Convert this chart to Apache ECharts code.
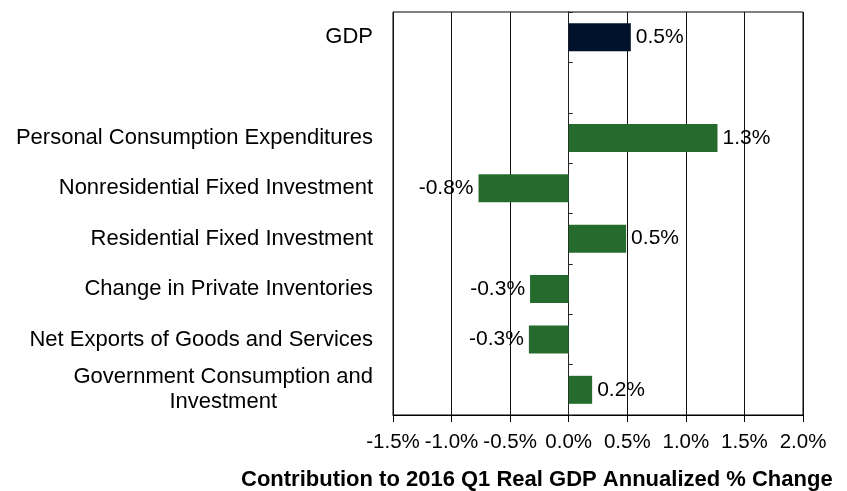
<!DOCTYPE html>
<html>
<head>
<meta charset="utf-8">
<script src="https://cdn.jsdelivr.net/npm/echarts@6/dist/echarts.min.js"></script>
<style>
  html, body { margin: 0; padding: 0; background: #fff; }
  #chart { width: 847px; height: 491px; }
</style>
</head>
<body>
<div id="chart"></div>
<script>
// categories top to bottom (blank row between GDP and the components)
const categories = [
  'GDP',
  '',
  'Personal Consumption Expenditures',
  'Nonresidential Fixed Investment',
  'Residential Fixed Investment',
  'Change in Private Inventories',
  'Net Exports of Goods and Services',
  'Government Consumption and\nInvestment'
];
// contribution, percentage points
const values = [0.53, null, 1.27, -0.77, 0.49, -0.33, -0.34, 0.2];
const xTicks = [-1.5, -1.0, -0.5, 0.0, 0.5, 1.0, 1.5, 2.0];

const NAVY = '#00112c';
const GREEN = '#256b2e';

let barData = values.map(function (v, i) {
  if (v === null) return null;
  return {
    value: v,
    itemStyle: { color: i === 0 ? NAVY : GREEN },
    label: { position: v < 0 ? 'left' : 'right' }
  };
});

let option = {
  animation: false,
  title: {
    text: 'Contribution to 2016 Q1 Real GDP Annualized % Change',
    left: 241,
    top: 469,
    padding: 0,
    textStyle: { fontFamily: 'Liberation Sans', fontSize: 22, fontWeight: 'bold', color: '#000' }
  },
  grid: {
    left: 393,
    right: 44,
    top: 12,
    bottom: 76,
    show: true,
    borderColor: '#000',
    borderWidth: 1
  },
  xAxis: {
    type: 'value',
    min: xTicks[0],
    max: xTicks[xTicks.length - 1],
    interval: 0.5,
    axisLine: { show: true, onZero: false, lineStyle: { color: '#000', width: 1 } },
    axisTick: { show: true, length: 7, lineStyle: { color: '#000' } },
    axisLabel: {
      margin: 17,
      fontFamily: 'Liberation Sans',
      fontSize: 20.5,
      color: '#000',
      hideOverlap: false,
      formatter: function (v) { return v.toFixed(1) + '%'; }
    },
    splitLine: { show: true, lineStyle: { color: '#111', width: 1 } }
  },
  yAxis: [
    {
      type: 'category',
      inverse: true,
      data: categories,
      axisLine: { show: false, onZero: false },
      axisTick: { show: false },
      axisLabel: {
        margin: 20,
        fontFamily: 'Liberation Sans',
        fontSize: 22,
        color: '#000',
        lineHeight: 25,
        formatter: function (v) {
          return v.indexOf('\n') >= 0 ? '{c|' + v + '}' : v;
        },
        rich: {
          c: { align: 'center', fontFamily: 'Liberation Sans', fontSize: 22, lineHeight: 25, color: '#000' }
        }
      }
    },
    {
      // axis line with ticks sitting on the zero line
      type: 'category',
      inverse: true,
      data: categories,
      axisLine: { show: true, onZero: true, lineStyle: { color: '#222', width: 1 } },
      axisTick: { show: true, length: 4, lineStyle: { color: '#222' } },
      axisLabel: { show: false }
    }
  ],
  series: [
    {
      type: 'bar',
      yAxisIndex: 0,
      barWidth: 28,
      data: barData,
      label: {
        show: true,
        distance: 5,
        fontFamily: 'Liberation Sans',
        fontSize: 21,
        color: '#000',
        formatter: function (p) { return p.value.toFixed(1) + '%'; }
      }
    }
  ]
};

let myChart = echarts.init(document.getElementById('chart'));
myChart.setOption(option);
</script>
</body>
</html>
